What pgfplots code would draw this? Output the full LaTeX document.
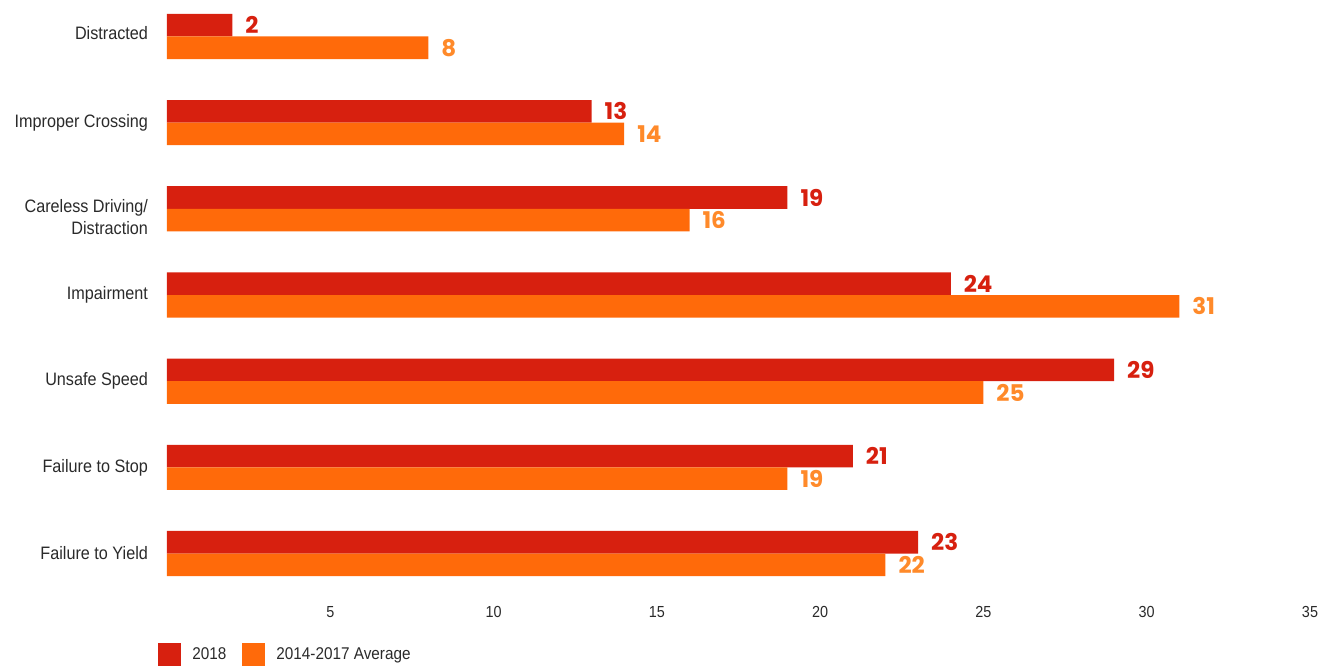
\documentclass[border=0pt]{standalone}
\usepackage{fontspec}
\setmainfont{Liberation Sans}[FakeStretch=0.9]
\newfontfamily\numfont{Poppins}[UprightFont=* Bold]
\usepackage{pgfplots}
\pgfplotsset{compat=1.18}
\definecolor{cRed}{HTML}{D7200F}
\definecolor{cOrg}{HTML}{FF6A0A}
\definecolor{cOrgT}{HTML}{FF8A2A}
\definecolor{tick}{HTML}{2A2A2A}
\begin{document}
\begin{tikzpicture}
\begin{axis}[
  scale only axis,
  width=571.5pt, height=288.7pt,
  xbar, bar width=11.3pt,
  xmin=0, xmax=35,
  ymin=-0.35, ymax=6.35,
  axis line style={draw=none},
  xtick={5,10,15,20,25,30,35},
  ytick={0,1,2,3,4,5,6},
  yticklabels={Failure to Yield,Failure to Stop,Unsafe Speed,Impairment,{\smash{\raisebox{-7.5pt}{\begin{tabular}{@{}r@{}}Careless Driving/\\[0.5pt]Distraction\end{tabular}}}},Improper Crossing,\smash{\raisebox{-1.5pt}{Distracted}}},
  yticklabel style={align=right, font=\fontsize{9}{10.5}\selectfont, text=tick, xshift=-6pt},
  xticklabel style={font=\fontsize{8}{9}\selectfont, text=tick, yshift=-8pt},
  /pgf/number format/assume math mode=true,
  major tick length=0pt,
  legend style={at={(0,0)}, anchor=west, xshift=-4.5pt, yshift=-35.7pt, inner sep=0pt, draw=none, fill=none, legend columns=2,
    font=\fontsize{8.5}{9}\selectfont, text=tick,
    /tikz/every odd column/.append style={column sep=3.5pt},
    /tikz/every even column/.append style={column sep=6pt}},
  legend image code/.code={\fill[#1] (0pt,-6pt) rectangle (11.5pt,6pt);},
  nodes near coords,
  every node near coord/.append style={font=\numfont\fontsize{11.5}{12}\selectfont, xshift=3pt},
  clip=false,
]
\addplot+[draw=none, fill=cRed, bar shift=5.65pt, every node near coord/.append style={text=cRed}]
 coordinates {(23,0) (21,1) (29,2) (24,3) (19,4) (13,5) (2,6)};
\addplot+[draw=none, fill=cOrg, bar shift=-5.65pt, every node near coord/.append style={text=cOrgT}]
 coordinates {(22,0) (19,1) (25,2) (31,3) (16,4) (14,5) (8,6)};
\legend{2018,2014-2017 Average}
\end{axis}
\pgfresetboundingbox
\path[use as bounding box] (-83.5pt,-40.65pt) rectangle (582.5pt,291.85pt);
\end{tikzpicture}
\end{document}
